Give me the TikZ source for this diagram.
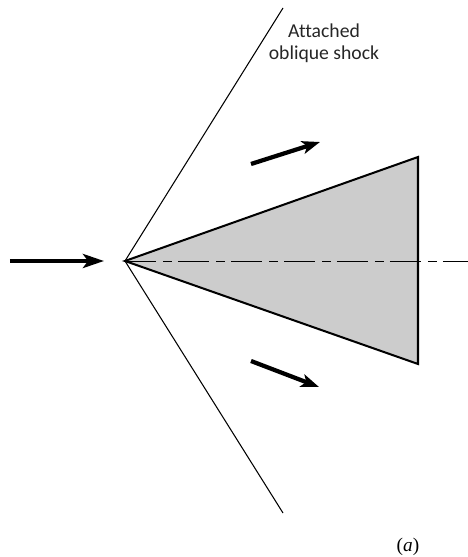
\documentclass[tikz,border=0pt]{standalone}
\usepackage{fontspec}
\setmainfont[Ligatures=NoCommon,Contextuals=NoAlternate]{Carlito}
\usetikzlibrary{arrows.meta}
\definecolor{wedgegray}{HTML}{CCCCCC}
\tikzset{
  flowarrow/.style={line width=0.95mm,-{Stealth[length=4.2mm,width=2.8mm,inset=1mm]}},
  flowthin/.style={line width=0.85mm,-{Stealth[length=3.6mm,width=2.6mm,inset=0.9mm]}},
  shockline/.style={line width=0.6pt},
  axisline/.style={line width=0.45pt,dash pattern=on 0.62cm off 0.14cm on 0.18cm off 0.12cm},
}
\begin{document}
\begin{tikzpicture}
\useasboundingbox (0,0) rectangle (9.36,11.14);
\coordinate (A) at (2.5,5.92);
\coordinate (B) at (8.36,8.0);
\coordinate (C) at (8.36,3.86);
\coordinate (T) at (5.66,10.98);
\coordinate (U) at (5.66,0.88);
\coordinate (E) at (9.36,5.92);

\coordinate (I0) at (0.2,5.92);
\coordinate (I1) at (2.08,5.92);
\coordinate (P0) at (5.02,7.86);
\coordinate (P1) at (6.4,8.3);
\coordinate (Q0) at (5.02,3.92);
\coordinate (Q1) at (6.38,3.4);

\draw[fill=wedgegray,line width=1.15pt,miter limit=20] (A) -- (B) -- (C) -- cycle;
\draw[axisline] (A) -- (E);
\draw[shockline] (A) -- (T);
\draw[shockline] (A) -- (U);

\draw[flowarrow] (I0) -- (I1);
\draw[flowthin] (P0) -- (P1);
\draw[flowthin] (Q0) -- (Q1);

\node[align=center,font=\fontsize{11.2}{12.5}\selectfont,text=black!85] (shock) at (6.48,10.28) {Attached\\oblique shock};
\node[font=\fontsize{11}{13}\selectfont] (label) at (8.16,0.2) {\fontspec{Liberation Serif}(\textit{a})};
\end{tikzpicture}
\end{document}
